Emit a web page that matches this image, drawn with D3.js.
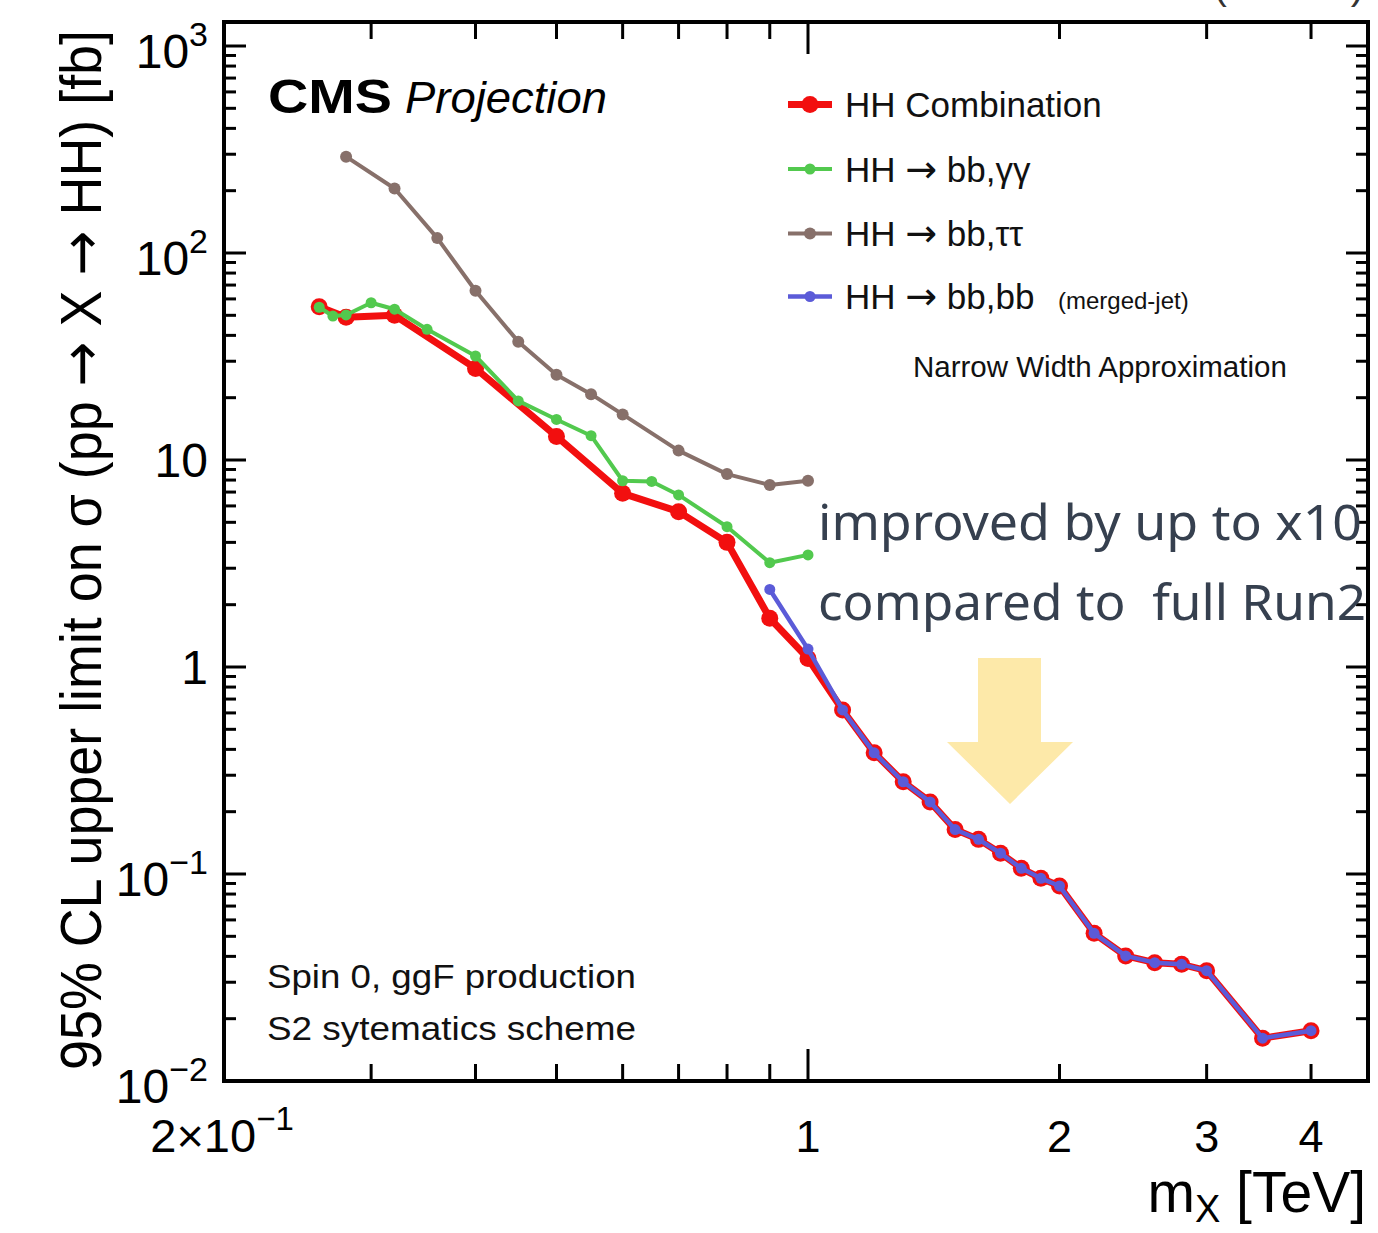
<!DOCTYPE html>
<html>
<head>
<meta charset="utf-8">
<script src="https://cdn.jsdelivr.net/npm/d3@7"></script>
<style>
html,body{margin:0;padding:0;background:#fff;}
svg{display:block;}
</style>
</head>
<body>
<svg id="chart" width="1378" height="1233"></svg>
<script>
// ---------------- DATA ----------------
const massComb  = [0.26, 0.28, 0.32, 0.4, 0.5, 0.6, 0.7, 0.8, 0.9, 1.0, 1.1, 1.2, 1.3, 1.4, 1.5, 1.6, 1.7, 1.8, 1.9, 2.0, 2.2, 2.4, 2.6, 2.8, 3.0, 3.5, 4.0];
const limitComb = [55, 48.9, 50, 27.7, 13.0, 6.9, 5.63, 4.0, 1.72, 1.10, 0.62, 0.385, 0.279, 0.223, 0.164, 0.147, 0.126, 0.1065, 0.0953, 0.0875, 0.0517, 0.0402, 0.0373, 0.0366, 0.0341, 0.0161, 0.0175];

const massGG  = [0.26, 0.27, 0.28, 0.3, 0.32, 0.35, 0.4, 0.45, 0.5, 0.55, 0.6, 0.65, 0.7, 0.8, 0.9, 1.0];
const limitGG = [54.7, 49.6, 50.2, 57.5, 53.5, 42.8, 31.8, 19.3, 15.7, 13.1, 7.94, 7.88, 6.78, 4.76, 3.19, 3.48];

const massTT  = [0.28, 0.32, 0.36, 0.4, 0.45, 0.5, 0.55, 0.6, 0.7, 0.8, 0.9, 1.0];
const limitTT = [292, 205, 118, 65.7, 37.3, 25.8, 20.8, 16.6, 11.1, 8.55, 7.57, 7.94];

const massBB  = [0.9, 1.0, 1.1, 1.2, 1.3, 1.4, 1.5, 1.6, 1.7, 1.8, 1.9, 2.0, 2.2, 2.4, 2.6, 2.8, 3.0, 3.5, 4.0];
const limitBB = [2.37, 1.22, 0.62, 0.385, 0.279, 0.223, 0.164, 0.147, 0.126, 0.1065, 0.0953, 0.0875, 0.0517, 0.0402, 0.0373, 0.0366, 0.0341, 0.0161, 0.0175];

// legend names split around the arrow: [before, arrow, after]
const seriesNames = [
  ["HH Combination", "", ""],
  ["HH ", "\u2192", " bb,\u03b3\u03b3"],
  ["HH ", "\u2192", " bb,\u03c4\u03c4"],
  ["HH ", "\u2192", " bb,bb"]
];

const yTickValues = [0.01, 0.1, 1, 10, 100, 1000];
const yTickBase   = ["10", "10", "1", "10", "10", "10"];
const yTickExp    = ["\u22122", "\u22121", "", "", "2", "3"];

const xTickValues = [0.2, 1, 2, 3, 4];
const xTickBase   = ["2\u00d710", "1", "2", "3", "4"];
const xTickExp    = ["\u22121", "", "", "", ""];

// ---------------- LAYOUT ----------------
const W = 1378, H = 1233;
const L = 224, R = 1368, T = 22, B = 1081;
const svg = d3.select("#chart");
svg.append("rect").attr("width", W).attr("height", H).attr("fill", "#fff");

const x = d3.scaleLog().domain([0.2, 4.68]).range([L, R]);
const decade = (B - 46) / 5;
const yTop = Math.pow(10, 3 + (46 - T) / decade);
const y = d3.scaleLog().domain([0.01, yTop]).range([B, T]);

const FONT = "'Liberation Sans', Arial, Helvetica, sans-serif";
const ARROWFONT = "'DejaVu Sans', sans-serif";

// ---------------- SERIES ----------------
const styles = [
  {m: massComb, v: limitComb, color: "#f20f0f", lw: 7,   r: 8.5},
  {m: massGG,   v: limitGG,   color: "#52c94e", lw: 4,   r: 5.5},
  {m: massTT,   v: limitTT,   color: "#87706a", lw: 4,   r: 6},
  {m: massBB,   v: limitBB,   color: "#5b5bd8", lw: 4.5, r: 5.5}
];

const line = d3.line().x(d => x(d[0])).y(d => y(d[1]));
const gData = svg.append("g");
styles.forEach(s => {
  const pts = s.m.map((m, i) => [m, s.v[i]]);
  gData.append("path").datum(pts)
    .attr("d", line).attr("fill", "none")
    .attr("stroke", s.color).attr("stroke-width", s.lw)
    .attr("stroke-linejoin", "round").attr("stroke-linecap", "round");
  gData.selectAll(null).data(pts).enter().append("circle")
    .attr("cx", d => x(d[0])).attr("cy", d => y(d[1]))
    .attr("r", s.r).attr("fill", s.color);
});

// ---------------- FRAME & TICKS ----------------
const gAx = svg.append("g").attr("stroke", "#000");
const yMinor = [];
for (let d = -2; d <= 3; d++) for (let k = 2; k <= 9; k++) {
  const v = k * Math.pow(10, d);
  if (v < yTop) yMinor.push(v);
}
const yMajLen = 22, yMinLen = 12;
yTickValues.forEach(v => {
  gAx.append("line").attr("x1", L).attr("x2", L + yMajLen).attr("y1", y(v)).attr("y2", y(v)).attr("stroke-width", 3);
  gAx.append("line").attr("x1", R).attr("x2", R - yMajLen).attr("y1", y(v)).attr("y2", y(v)).attr("stroke-width", 3);
});
yMinor.forEach(v => {
  gAx.append("line").attr("x1", L).attr("x2", L + yMinLen).attr("y1", y(v)).attr("y2", y(v)).attr("stroke-width", 3);
  gAx.append("line").attr("x1", R).attr("x2", R - yMinLen).attr("y1", y(v)).attr("y2", y(v)).attr("stroke-width", 3);
});
const xMinor = [0.3, 0.4, 0.5, 0.6, 0.7, 0.8, 0.9, 2, 3, 4];
const xMajor = [1];
xMinor.forEach(v => {
  gAx.append("line").attr("x1", x(v)).attr("x2", x(v)).attr("y1", B).attr("y2", B - 17).attr("stroke-width", 3);
  gAx.append("line").attr("x1", x(v)).attr("x2", x(v)).attr("y1", T).attr("y2", T + 17).attr("stroke-width", 3);
});
xMajor.forEach(v => {
  gAx.append("line").attr("x1", x(v)).attr("x2", x(v)).attr("y1", B).attr("y2", B - 32).attr("stroke-width", 3);
  gAx.append("line").attr("x1", x(v)).attr("x2", x(v)).attr("y1", T).attr("y2", T + 32).attr("stroke-width", 3);
});
svg.append("rect").attr("x", L).attr("y", T).attr("width", R - L).attr("height", B - T)
  .attr("fill", "none").attr("stroke", "#000").attr("stroke-width", 4);

// ---------------- TICK LABELS ----------------
const gLab = svg.append("g").attr("font-family", FONT).attr("fill", "#000");
yTickValues.forEach((v, i) => {
  const hasExp = yTickExp[i] !== "";
  const t = gLab.append("text").attr("x", 208).attr("y", y(v) + (hasExp ? 22 : 17))
    .attr("text-anchor", "end").attr("font-size", 48);
  t.append("tspan").text(yTickBase[i]);
  if (hasExp) t.append("tspan").attr("font-size", 34).attr("dy", -22).text(yTickExp[i]);
});
xTickValues.forEach((v, i) => {
  const hasExp = xTickExp[i] !== "";
  const t = gLab.append("text").attr("x", x(v) - (hasExp ? 2 : 0)).attr("y", 1152)
    .attr("text-anchor", "middle").attr("font-size", hasExp ? 47 : 45);
  t.append("tspan").text(xTickBase[i]);
  if (hasExp) t.append("tspan").attr("font-size", 33).attr("dy", -22).text(xTickExp[i]);
});

// ---------------- AXIS TITLES ----------------
const xt = svg.append("text").attr("x", 1366).attr("y", 1212).attr("text-anchor", "end")
  .attr("font-family", FONT).attr("font-size", 57).attr("fill", "#000");
xt.append("tspan").text("m");
xt.append("tspan").attr("font-size", 38).attr("dy", 10).text("X");
xt.append("tspan").attr("dy", -10).text(" [TeV]");

const ylab = svg.append("text")
  .attr("transform", "translate(101,550) scale(1.15,1) rotate(-90)")
  .attr("text-anchor", "middle").attr("font-family", FONT).attr("font-size", 50)
  .attr("textLength", 1040).attr("lengthAdjust", "spacingAndGlyphs")
  .attr("fill", "#000");
ylab.append("tspan").text("95% CL upper limit on \u03c3 (pp ");
ylab.append("tspan").attr("font-family", ARROWFONT).text("\u2192");
ylab.append("tspan").text(" X ");
ylab.append("tspan").attr("font-family", ARROWFONT).text("\u2192");
ylab.append("tspan").text(" HH) [fb]");

// cut-off luminosity label at very top (only its lower edge shows, as in the source image)
svg.append("text").attr("x", 1364).attr("y", -1.5).attr("text-anchor", "end")
  .attr("font-family", FONT).attr("font-size", 40).attr("fill", "#333")
  .text("3000 fb\u207b\u00b9 (14 TeV)");

// ---------------- CMS LABEL ----------------
svg.append("text").attr("x", 268).attr("y", 113).attr("font-family", FONT)
  .attr("font-weight", "bold").attr("font-size", 48)
  .attr("textLength", 124).attr("lengthAdjust", "spacingAndGlyphs").text("CMS");
svg.append("text").attr("x", 405).attr("y", 113).attr("font-family", FONT)
  .attr("font-style", "italic").attr("font-size", 44)
  .attr("textLength", 202).attr("lengthAdjust", "spacingAndGlyphs").text("Projection");

// ---------------- LEGEND ----------------
const legBase = [117, 181.5, 246, 309];
const gLeg = svg.append("g");
styles.forEach((s, i) => {
  const ly = legBase[i] - 12.5;
  gLeg.append("line").attr("x1", 788).attr("x2", 832).attr("y1", ly).attr("y2", ly)
    .attr("stroke", s.color).attr("stroke-width", s.lw);
  gLeg.append("circle").attr("cx", 810).attr("cy", ly).attr("r", s.r).attr("fill", s.color);
  const t = gLeg.append("text").attr("x", 845).attr("y", legBase[i])
    .attr("font-family", FONT).attr("font-size", 35).attr("fill", "#111");
  t.append("tspan").text(seriesNames[i][0]);
  if (seriesNames[i][1]) {
    t.append("tspan").attr("font-family", ARROWFONT).attr("font-size", 38).text(seriesNames[i][1]);
    t.append("tspan").text(seriesNames[i][2]);
  }
});
gLeg.append("text").attr("x", 1058).attr("y", legBase[3]).attr("font-family", FONT)
  .attr("font-size", 24).attr("fill", "#111").text("(merged-jet)");

svg.append("text").attr("x", 913).attr("y", 377).attr("font-family", FONT)
  .attr("font-size", 29.5).attr("fill", "#111").text("Narrow Width Approximation");

svg.append("text").attr("x", 267).attr("y", 988).attr("font-family", FONT)
  .attr("font-size", 33).attr("textLength", 369).attr("lengthAdjust", "spacingAndGlyphs")
  .attr("fill", "#111").text("Spin 0, ggF production");
svg.append("text").attr("x", 267).attr("y", 1040).attr("font-family", FONT)
  .attr("font-size", 33).attr("textLength", 369).attr("lengthAdjust", "spacingAndGlyphs")
  .attr("fill", "#111").text("S2 sytematics scheme");

// ---------------- ANNOTATION ----------------
svg.append("polygon")
  .attr("points", [[978,658],[1041,658],[1041,742],[1073,742],[1010,804],[947,742],[978,742]].map(p => p.join(",")).join(" "))
  .attr("fill", "#fde9a9");

const AFONT = "'Noto Sans', 'Open Sans', sans-serif";
svg.append("text").attr("x", 818).attr("y", 540).attr("font-family", AFONT)
  .attr("font-size", 50).attr("fill", "#36404f")
  .attr("textLength", 544).attr("lengthAdjust", "spacingAndGlyphs")
  .text("improved by up to x10");
svg.append("text").attr("x", 818).attr("y", 620).attr("font-family", AFONT)
  .attr("font-size", 50).attr("fill", "#36404f").style("white-space", "pre")
  .attr("textLength", 548).attr("lengthAdjust", "spacingAndGlyphs")
  .text("compared to  full Run2");
</script>
</body>
</html>
